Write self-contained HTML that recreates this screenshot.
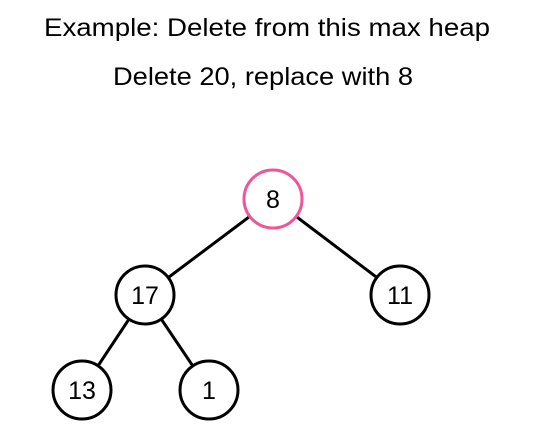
<!DOCTYPE html><html><head><style>body{margin:0;background:#fff}</style></head><body>
<svg width="534" height="437" xmlns="http://www.w3.org/2000/svg" font-family="Liberation Sans, sans-serif">
<rect width="534" height="437" fill="#fff"/>
<text x="267" y="36" font-size="25" text-anchor="middle" textLength="446" lengthAdjust="spacingAndGlyphs">Example: Delete from this max heap</text>
<text x="263" y="85" font-size="25" text-anchor="middle" textLength="300" lengthAdjust="spacingAndGlyphs">Delete 20, replace with 8</text>
<g stroke="#000" stroke-width="3">
<line x1="273" y1="199" x2="145" y2="295"/>
<line x1="273" y1="199" x2="400" y2="295"/>
<line x1="145" y1="295" x2="82" y2="390"/>
<line x1="145" y1="295" x2="209" y2="390"/>
</g>
<g fill="#fff" stroke="#000" stroke-width="3">
<circle cx="273" cy="199" r="29" stroke="#f0559a"/>
<circle cx="145" cy="295" r="29"/>
<circle cx="400" cy="295" r="29"/>
<circle cx="82" cy="390" r="29"/>
<circle cx="209" cy="390" r="29"/>
</g>
<g text-anchor="middle" style="font-size:25px">
<text x="273" y="208">8</text>
<text x="145" y="304">17</text>
<text x="400" y="304">11</text>
<text x="82" y="399">13</text>
<text x="209" y="399">1</text>
</g>
</svg></body></html>
